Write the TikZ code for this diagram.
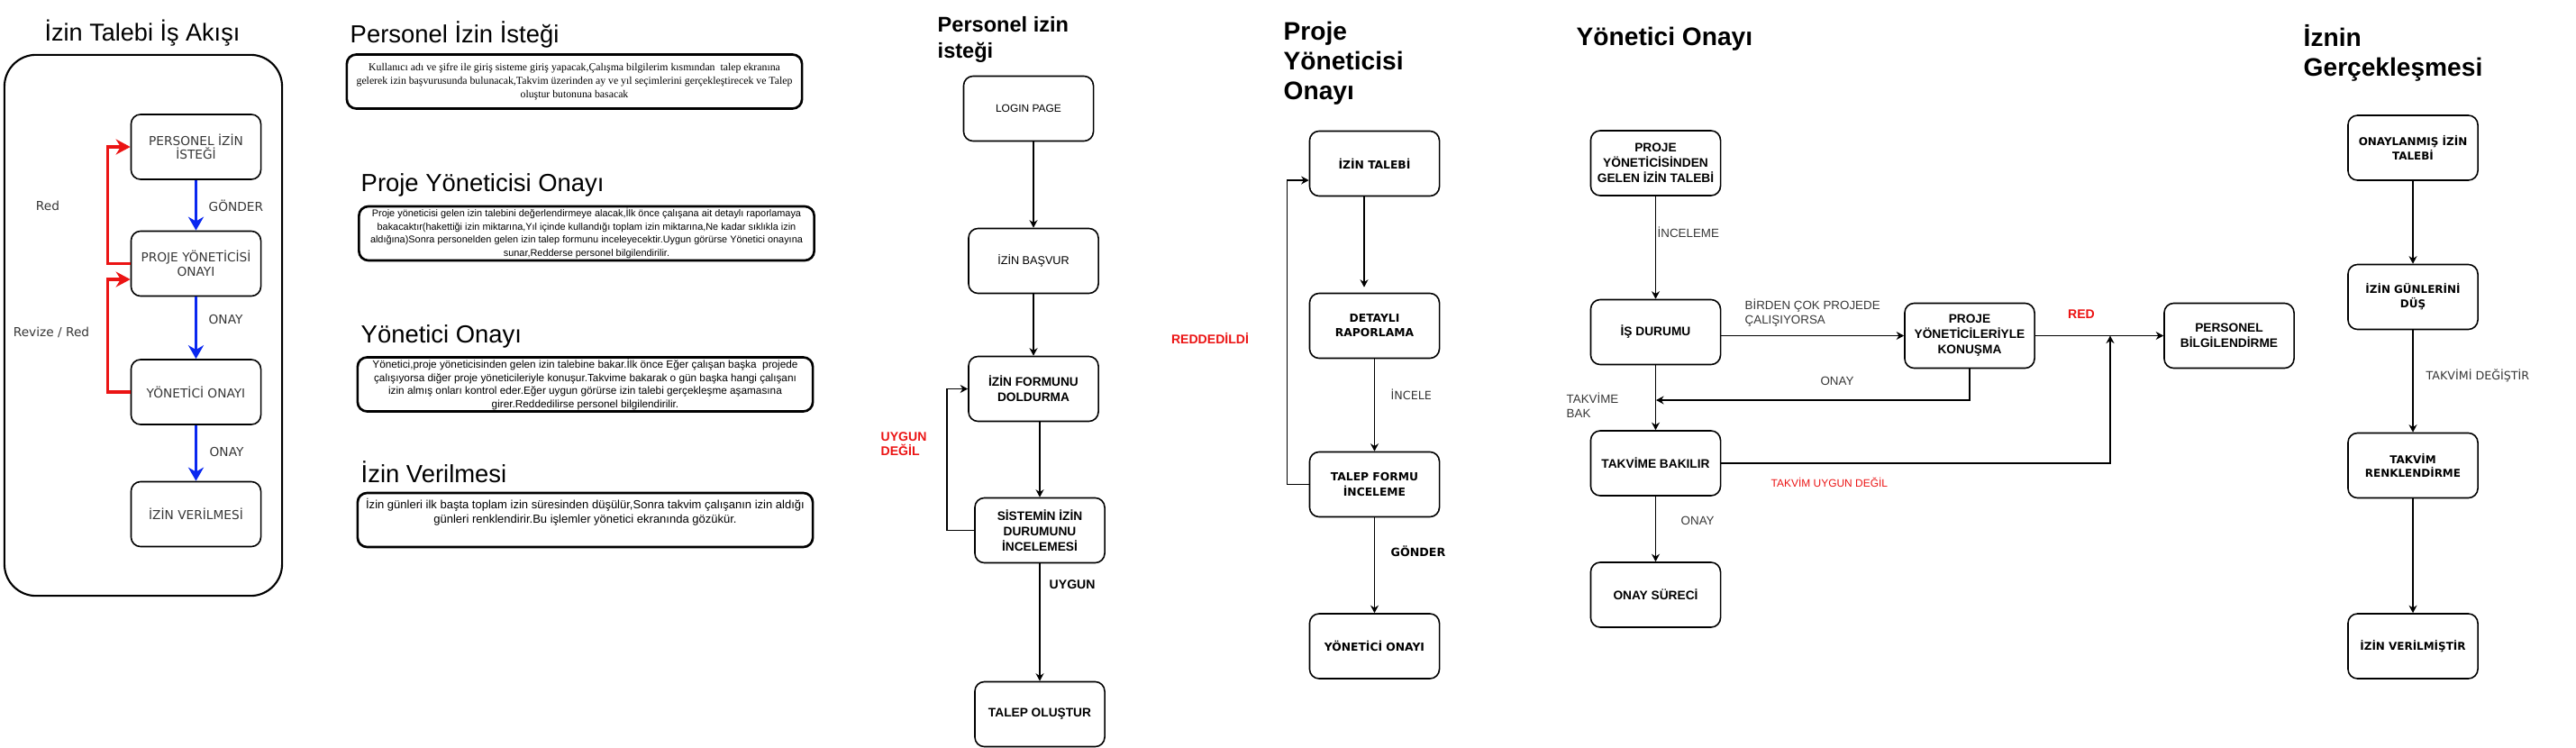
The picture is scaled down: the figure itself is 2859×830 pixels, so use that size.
\documentclass[tikz,border=0pt]{standalone}
\usepackage{fontspec}
\setmainfont{Liberation Sans}
\newfontfamily\seriffam{Liberation Serif}
\newfontfamily\widefam{DejaVu Sans}
\usetikzlibrary{arrows.meta,positioning}
\definecolor{flowblue}{RGB}{10,40,240}
\definecolor{flowred}{RGB}{235,20,20}
\definecolor{lblgray}{RGB}{55,55,55}
\newcommand\fs[2]{\fontsize{#1}{#2}\selectfont}

\begin{document}
\begin{tikzpicture}[x=0.01cm,y=-0.01cm,
    box/.style={draw, rounded corners=3pt, line width=0.45pt, minimum width=1.44cm,
      minimum height=0.72cm, align=center, inner sep=1pt, font=\bfseries\fs{3.9}{4.8}},
    widebox/.style={box, font=\widefam\bfseries\fs{3.5}{4.6}},
    note/.style={draw, rounded corners=3pt, line width=0.75pt, minimum width=5.05cm,
      minimum height=0.6cm, align=center, inner sep=0pt},
    arr/.style={-{Stealth[length=0.085cm,width=0.09cm]}, line width=0.45pt},
    bluearr/.style={-{Stealth[length=0.15cm,width=0.17cm]}, line width=0.9pt, draw=flowblue},
    redarr/.style={-{Stealth[length=0.16cm,width=0.17cm]}, line width=0.9pt, draw=flowred},
    lbl/.style={text=lblgray, font=\fs{3.8}{4.7}, align=left, inner sep=0pt},
    redlbl/.style={text=flowred, font=\bfseries\fs{4}{4.6}, align=left, inner sep=0pt},
    bigtitle/.style={font=\bfseries\fs{8}{9.4}, align=left, inner sep=0pt, anchor=west}]
  \useasboundingbox (0,0) rectangle (2859,830);

  \node[font=\fs{7.7}{9}] (t1) at (158,37) {İzin Talebi İş Akışı};
  \node[draw, rounded corners=10pt, line width=0.6pt, minimum width=3.08cm,
    minimum height=6cm] (frame) at (159,361) {};
  \begin{scope}[every node/.style={box, text=lblgray, font=\widefam\fs{3.9}{4.4}}]
    \node (p1) at (217.5,163) {PERSONEL İZİN\\İSTEĞİ};
    \node (p2) at (217.5,292.5) {PROJE YÖNETİCİSİ\\ONAYI};
    \node (p3) at (217.5,435) {YÖNETİCİ ONAYI};
    \node (p4) at (217.5,570.5) {İZİN VERİLMESİ};
  \end{scope}
  \draw[bluearr] (p1) -- (p2);
  \draw[bluearr] (p2) -- (p3);
  \draw[bluearr] (p3) -- (p4);
  \draw[redarr] (p2.west) -- ++(-25,0) |- (p1.west);
  \draw[redarr] (p3.west) -- ++(-25,0) |- ([yshift=-0.175cm]p2.west);
  \begin{scope}[every node/.style={lbl, font=\widefam\fs{3.9}{4.6}}]
    \node[anchor=west] at (231,228) {GÖNDER};
    \node[anchor=west] at (231,355) {ONAY};
    \node[anchor=west] at (232,501) {ONAY};
    \node at (53,228) {Red};
    \node at (57,369) {Revize / Red};
  \end{scope}

  \node[anchor=west, font=\fs{7.8}{9}, inner sep=0pt] (t2) at (388,38) {Personel İzin İsteği};
  \node[note, font=\seriffam\fs{3.35}{4.27}] (d1) at (637.5,90.5)
    {Kullanıcı adı ve şifre ile giriş sisteme giriş yapacak,Çalışma bilgilerim kısmından\ \ talep ekranına\\
     gelerek izin başvurusunda bulunacak,Takvim üzerinden ay ve yıl seçimlerini gerçekleştirecek ve Talep\\
     oluştur butonuna basacak};
  \node[anchor=west, font=\fs{7.8}{9}, inner sep=0pt] (t3) at (400,205) {Proje Yöneticisi Onayı};
  \node[note, font=\fs{3.1}{4.15}] (d2) at (651,259)
    {Proje yöneticisi gelen izin talebini değerlendirmeye alacak,İlk önce çalışana ait detaylı raporlamaya\\
     bakacaktır(hakettiği izin miktarına,Yıl içinde kullandığı toplam izin miktarına,Ne kadar sıklıkla izin\\
     aldığına)Sonra personelden gelen izin talep formunu inceleyecektir.Uygun görürse Yönetici onayına\\
     sunar,Redderse personel bilgilendirilir.};
  \node[anchor=west, font=\fs{7.8}{9}, inner sep=0pt] (t4) at (400,373) {Yönetici Onayı};
  \node[note, font=\fs{3.35}{4.12}] (d3) at (649.5,426.5)
    {Yönetici,proje yöneticisinden gelen izin talebine bakar.İlk önce Eğer çalışan başka\ \ projede\\
     çalışıyorsa diğer proje yöneticileriyle konuşur.Takvime bakarak o gün başka hangi çalışanı\\
     izin almış onları kontrol eder.Eğer uygun görürse izin talebi gerçekleşme aşamasına\\
     girer.Reddedilirse personel bilgilendirilir.};
  \node[anchor=west, font=\fs{7.8}{9}, inner sep=0pt] (t5) at (400,524) {İzin Verilmesi};
  \node[note] (d4) at (649.5,577) {};
  \node[below=0.07cm of d4.north, align=center, inner sep=0pt, font=\fs{3.7}{4.47}] (d4text)
    {İzin günleri ilk başta toplam izin süresinden düşülür,Sonra takvim çalışanın izin aldığı\\
     günleri renklendirir.Bu işlemler yönetici ekranında gözükür.};

  \node[bigtitle, font=\bfseries\fs{6.7}{8}] (t6) at (1040,44) {Personel izin\\isteği};
  \node[box, font=\fs{3.4}{4.6}] (login) at (1141.5,120.5) {LOGIN PAGE};
  \node[box, font=\fs{3.6}{4.6}] (basvur) at (1147,289.5) {İZİN BAŞVUR};
  \node[box] (form) at (1147,431.5) {İZİN FORMUNU\\DOLDURMA};
  \node[box] (sistem) at (1154,588.5) {SİSTEMİN İZİN\\DURUMUNU\\İNCELEMESİ};
  \node[box] (olustur) at (1154,792.5) {TALEP OLUŞTUR};
  \draw[arr] (login.south -| basvur) -- (basvur);
  \draw[arr] (basvur.south -| form) -- (form);
  \draw[arr] (form.south -| sistem) -- (sistem);
  \draw[arr] (sistem) -- (olustur);
  \draw[arr] (sistem.west) -- ++(-30,0) |- (form.west);
  \node[redlbl, anchor=west] at (977,493) {UYGUN\\DEĞİL};
  \node[redlbl, text=black, anchor=west] at (1164,649) {UYGUN};
  \node[redlbl] at (1343,375) {REDDEDİLDİ};

  \node[bigtitle] (t7) at (1424,70) {Proje\\Yöneticisi\\Onayı};
  \node[widebox] (talebi) at (1525.5,181.5) {İZİN TALEBİ};
  \node[widebox] (rapor) at (1525.5,361.5) {DETAYLI\\RAPORLAMA};
  \node[widebox] (inceleme) at (1525.5,537.5) {TALEP FORMU\\İNCELEME};
  \node[widebox] (yonetici) at (1525.5,717) {YÖNETİCİ ONAYI};
  \draw[arr] ([xshift=-0.115cm]talebi.south) -- ([xshift=-0.115cm,yshift=0.06cm]rapor.north);
  \draw[arr] (rapor) -- (inceleme);
  \draw[arr] (inceleme) -- (yonetici);
  \draw[arr] (inceleme.west) -- ++(-24,0) |- ([yshift=-0.185cm]talebi.west);
  \node[lbl, font=\widefam\fs{3.6}{4.6}, anchor=west] at (1543,438) {İNCELE};
  \node[lbl, text=black, font=\widefam\bfseries\fs{3.6}{4.6}, anchor=west] at (1543,612) {GÖNDER};

  \node[bigtitle] (t8) at (1749,43) {Yönetici Onayı};
  \node[box] (gelen) at (1837.5,181) {PROJE\\YÖNETİCİSİNDEN\\GELEN İZİN TALEBİ};
  \node[box] (isdurumu) at (1837.5,368.5) {İŞ DURUMU};
  \node[box] (konusma) at (2186,372.5) {PROJE\\YÖNETİCİLERİYLE\\KONUŞMA};
  \node[box] (takvim) at (1837.5,514) {TAKVİME BAKILIR};
  \node[box] (onaysureci) at (1837.5,660) {ONAY SÜRECİ};
  \node[box] (bilgi) at (2474,372.5) {PERSONEL\\BİLGİLENDİRME};
  \coordinate (onayjoin) at (1838,444);
  \coordinate (redjoin) at (2342,372.5);
  \draw[arr] (gelen) -- (isdurumu);
  \draw[arr] (isdurumu.east |- konusma) -- (konusma);
  \draw[arr] (isdurumu) -- (takvim);
  \draw[arr] (konusma.south) |- (onayjoin);
  \draw[arr] (konusma) -- (bilgi);
  \draw[arr] (takvim.east) -| (redjoin);
  \draw[arr] (takvim) -- (onaysureci);
  \node[lbl, anchor=west] at (1839,258) {İNCELEME};
  \node[lbl, anchor=west] at (1936,347) {BİRDEN ÇOK PROJEDE\\ÇALIŞIYORSA};
  \node[lbl] at (2039,423) {ONAY};
  \node[lbl, anchor=west] at (1738,449.5) {TAKVİME\\BAK};
  \node[lbl, text=flowred, font=\fs{3.4}{4.6}, anchor=west] at (1965,535) {TAKVİM UYGUN DEĞİL};
  \node[lbl, anchor=west] at (1865,578) {ONAY};
  \node[redlbl] at (2310,349) {RED};

  \node[bigtitle] (t9) at (2556,58.5) {İznin\\Gerçekleşmesi};
  \node[widebox, font=\widefam\bfseries\fs{3.4}{4.5}] (onaylanmis) at (2678,164) {ONAYLANMIŞ İZİN\\TALEBİ};
  \node[widebox, font=\widefam\bfseries\fs{3.4}{4.5}] (gunler) at (2678,329.5) {İZİN GÜNLERİNİ\\DÜŞ};
  \node[widebox, font=\widefam\bfseries\fs{3.4}{4.5}] (renk) at (2678,516.5) {TAKVİM\\RENKLENDİRME};
  \node[widebox, font=\widefam\bfseries\fs{3.4}{4.5}] (verildi) at (2678,717) {İZİN VERİLMİŞTİR};
  \draw[arr] (onaylanmis) -- (gunler);
  \draw[arr] (gunler) -- (renk);
  \draw[arr] (renk) -- (verildi);
  \node[lbl, font=\widefam\fs{3.6}{4.6}, anchor=west] at (2692,417) {TAKVİMİ DEĞİŞTİR};
\end{tikzpicture}
\end{document}
